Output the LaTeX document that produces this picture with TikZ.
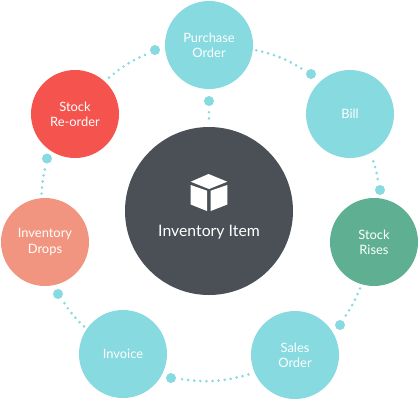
\documentclass[tikz,border=0pt]{standalone}
\usepackage{fontspec}
\setmainfont{Lato}
\definecolor{teal1}{HTML}{86DAE0}
\definecolor{dark1}{HTML}{4B5056}
\definecolor{red1}{HTML}{F5534D}
\definecolor{salmon1}{HTML}{F29580}
\definecolor{green1}{HTML}{5FB093}
\tikzset{
  x=1pt,y=-1pt,
  stage/.style={circle,minimum size=88pt,inner sep=0pt,text=white,align=center,font=\fontsize{12.9}{15.3}\selectfont},
  dotn/.style={circle,fill=teal1,minimum size=10pt,inner sep=0pt},
  link/.style={draw=teal1,line width=2.9pt,line cap=round,dash pattern=on 0pt off 6.1pt,shorten >=3pt,shorten <=6pt},
}
\begin{document}
\begin{tikzpicture}
\useasboundingbox (0,0) rectangle (418,400);
\node[circle,fill=dark1,minimum size=168pt,inner sep=0pt] (center) at (209,211) {};
\node[text=white,font=\fontsize{15.8}{18}\selectfont] (title) at (209,232.5) {Inventory Item};
\fill[white] (208.5,174) -- (227.3,181.7) -- (209,189) -- (190.7,181.7) -- cycle;
\fill[white] (190.7,185) -- (207,190.7) -- (207,211) -- (190.7,204.5) -- cycle;
\fill[white] (227.3,185) -- (210.7,190.7) -- (210.7,211) -- (227.3,204.5) -- cycle;
\node[stage,fill=teal1] (po) at (209,45) {Purchase\\Order};
\node[stage,fill=teal1] (bill) at (350,114) {Bill};
\node[stage,fill=green1] (rises) at (374,242) {Stock\\Rises};
\node[stage,fill=teal1] (so) at (295,355) {Sales\\Order};
\node[stage,fill=teal1] (inv) at (123,354) {Invoice};
\node[stage,fill=salmon1] (drops) at (45,242) {Inventory\\Drops};
\node[stage,fill=red1] (re) at (75,114) {Stock\\Re-order};
\node[dotn] (d0) at (209,101) {};
\node[dotn] (d1) at (311,74) {};
\node[dotn] (d2) at (380,190) {};
\node[dotn] (d3) at (340,325) {};
\node[dotn] (d4) at (171,378) {};
\node[dotn] (d5) at (58,294) {};
\node[dotn] (d6) at (47,158.5) {};
\node[dotn] (d7) at (155,50) {};
\draw[link] (d0) -- (center);
\draw[link] (d1) to[bend right=10] (po);
\draw[link] (d2) to[bend right=6] (bill);
\draw[link] (d3) to[bend right=6] (rises);
\draw[link] (d4) to[bend right=13] (so);
\draw[link] (d5) to[bend right=8] (inv);
\draw[link] (d6) to[bend right=6] (drops);
\draw[link] (d7) to[bend right=9] (re);
\end{tikzpicture}
\end{document}
